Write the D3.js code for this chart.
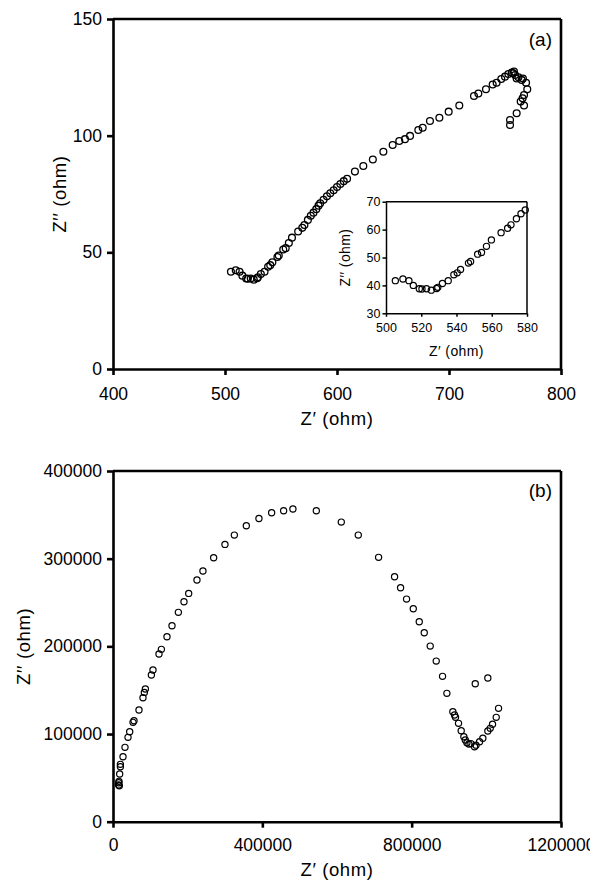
<!DOCTYPE html>
<html>
<head>
<meta charset="utf-8">
<script src="https://cdn.jsdelivr.net/npm/d3@7"></script>
<style>
  body { margin: 0; background: #fff; }
  svg { display: block; font-family: "Liberation Sans", Arial, sans-serif; }
</style>
</head>
<body>
<svg id="chart" width="600" height="893"></svg>
<script>
// ---- Panel (a): Nyquist plot, Z' vs Z'' (ohm) ----
const aZre = [505.3, 509.6, 513, 515.5, 518.9, 520.4, 523, 525.7, 528.7, 529.4, 532, 535.3, 538.5, 540.4, 542.3,
  546.8, 548, 552, 554.2, 557, 559.8, 565.3, 569, 570.9, 574, 576.6,
  579, 581.5, 583.5, 585, 588, 591, 594, 597, 600, 603, 606, 609, 616, 623.5, 632, 641.4, 649.7, 655.6, 660.7,
  665.2, 672.6, 676.5, 683, 691.4, 699.7, 709.2, 722.3, 726.2, 733, 739, 742.5, 746.7, 750, 753, 756, 757.4,
  758, 759, 760.4, 762, 764.9, 766, 768.8, 769.9, 767, 765.7, 764, 767, 760.4, 754.5, 754.5];
const aZim = [41.7, 42.3, 41.7, 40, 38.8, 38.7, 38.8, 38.3, 38.9, 39.3, 40.7, 41.7, 43.8, 44.5, 45.7,
  48, 48.6, 51.2, 51.8, 54, 56.3, 58.9, 60.5, 61.7, 63.9, 65.7,
  67, 68.5, 70, 71, 72.5, 74, 75.3, 76.6, 78, 79.3, 80.5, 81.5, 84.6, 87, 89.8, 93.1, 96, 97.7, 98.5,
  99.9, 102.4, 103.4, 106.3, 107.7, 110.3, 112.9, 117, 118.1, 119.9, 121.9, 122.7, 124.3, 125.3, 126.4, 127, 126.7,
  127.5, 126, 124.5, 125, 123.9, 124.5, 122.7, 119.9, 117.4, 116, 114.6, 112.9, 109.6, 106.7, 104.6];
const aXTicks = [400, 500, 600, 700, 800];
const aYTicks = [0, 50, 100, 150];

// ---- Inset of panel (a) ----
const insetXTicks = [500, 520, 540, 560, 580];
const insetYTicks = [30, 40, 50, 60, 70];

// ---- Panel (b) ----
const bZre = [15000, 15500, 16000, 17000, 17900, 19800, 19800, 26800, 32100, 40200, 44700, 53600, 56300, 69600,
  80300, 84000, 86700, 102800, 107100, 123200, 129600, 144600, 158000, 175100, 190100, 202700, 224900, 240900,
  269600, 299900, 325000, 357100, 390900, 424900, 457000, 481900, 544600, 611500, 657000, 711400, 754200,
  770300, 786300, 804300, 820300, 833700, 849700, 865800, 882700, 894300, 910300, 914800, 917500, 925500,
  932700, 939800, 943600, 948000, 953300, 958700, 968400, 972400, 981800, 990600, 1004000, 1010400, 1016600,
  1026500, 1032700, 970300, 1004000];
const bZim = [42000, 44500, 46000, 41000, 54400, 62700, 65400, 74100, 84800, 96200, 102600, 113300, 115200, 127400,
  141400, 147500, 151300, 167300, 173000, 191200, 196600, 211000, 223500, 238800, 250900, 260400, 275600, 285900,
  301000, 316300, 326900, 337500, 345900, 352300, 354600, 356600, 354600, 341700, 326900, 301500, 279400,
  266800, 253900, 242900, 228100, 215500, 200300, 183200, 165800, 146400, 125400, 121700, 119000, 112200,
  103800, 96900, 93200, 90100, 88600, 89100, 85500, 87300, 91200, 95100, 103400, 106500, 111100,
  119000, 129300, 157400, 163900];
const bXTicks = [0, 400000, 800000, 1200000];
const bYTicks = [0, 100000, 200000, 300000, 400000];

const svg = d3.select("#chart");

svg.append("defs").append("clipPath").attr("id", "pageclip")
  .append("rect").attr("x", 0).attr("y", 0).attr("width", 590).attr("height", 893);

function panel(opts) {
  const g = svg.append("g").attr("clip-path", opts.clip ? "url(#pageclip)" : null);
  const x = d3.scaleLinear().domain(opts.xDomain).range(opts.xRange);
  const y = d3.scaleLinear().domain(opts.yDomain).range(opts.yRange);
  const fs = opts.fontSize;

  // frame top & right
  g.append("line").attr("x1", opts.xRange[0]).attr("x2", opts.xRange[1])
    .attr("y1", opts.yRange[1]).attr("y2", opts.yRange[1])
    .attr("stroke", "#000").attr("stroke-width", opts.frameW);
  g.append("line").attr("x1", opts.xRange[1]).attr("x2", opts.xRange[1])
    .attr("y1", opts.yRange[0]).attr("y2", opts.yRange[1])
    .attr("stroke", "#000").attr("stroke-width", opts.frameW);

  const xa = g.append("g").attr("transform", `translate(0,${opts.yRange[0]})`)
    .call(d3.axisBottom(x).tickValues(opts.xTicks).tickFormat(d3.format("d"))
      .tickSize(opts.tick).tickSizeOuter(0).tickPadding(opts.xPad));
  const ya = g.append("g").attr("transform", `translate(${opts.xRange[0]},0)`)
    .call(d3.axisLeft(y).tickValues(opts.yTicks).tickFormat(d3.format("d"))
      .tickSize(opts.tick).tickSizeOuter(0).tickPadding(opts.yPad));
  [xa, ya].forEach(a => {
    a.select(".domain").attr("stroke-width", opts.axisW);
    a.selectAll(".tick line").attr("stroke-width", opts.axisW);
    a.selectAll("text").attr("font-size", fs).attr("fill", "#000")
      .attr("font-family", "Liberation Sans, Arial, sans-serif");
  });

  g.append("g").selectAll("circle").data(opts.xs.map((v, i) => [v, opts.ys[i]]))
    .join("circle")
    .attr("cx", d => x(d[0])).attr("cy", d => y(d[1])).attr("r", opts.r)
    .attr("fill", "none").attr("stroke", "#000").attr("stroke-width", opts.ptW);

  g.append("text").attr("x", (opts.xRange[0] + opts.xRange[1]) / 2).attr("y", opts.xTitleY)
    .attr("text-anchor", "middle").attr("font-size", opts.titleSize)
    .attr("letter-spacing", opts.ls).text("Z\u2032 (ohm)");
  const my = (opts.yRange[0] + opts.yRange[1]) / 2;
  g.append("text").attr("transform", `translate(${opts.yTitleX},${my}) rotate(-90)`)
    .attr("text-anchor", "middle").attr("font-size", opts.titleSize)
    .attr("letter-spacing", opts.ls).text("Z\u2032\u2032 (ohm)");
  if (opts.tag) {
    g.append("text").attr("x", opts.xRange[1] - 9).attr("y", opts.yRange[1] + opts.tagDy)
      .attr("text-anchor", "end").attr("font-size", 19).text(opts.tag);
  }
}

// panel (a) main
panel({
  xDomain: [400, 800], xRange: [113, 561], yDomain: [0, 150], yRange: [369, 19],
  xTicks: aXTicks, yTicks: aYTicks, xs: aZre, ys: aZim,
  fontSize: 17.5, titleSize: 18.5, ls: 0.6, tick: 6, xPad: 13, yPad: 5,
  axisW: 2.6, frameW: 2.6, r: 3.4, ptW: 1.3, xTitleY: 425, yTitleX: 66, tag: "(a)", tagDy: 27
});

// inset
const insetXs = aZre.filter(v => v <= 580);
const insetYs = aZim.filter((v, i) => aZre[i] <= 580);
panel({
  xDomain: [500, 580], xRange: [386, 527], yDomain: [30, 70], yRange: [313.3, 201.7],
  xTicks: insetXTicks, yTicks: insetYTicks, xs: insetXs, ys: insetYs,
  fontSize: 12.5, titleSize: 14, ls: 0.4, tick: 3.5, xPad: 6, yPad: 2,
  axisW: 1.5, frameW: 1.5, r: 3.1, ptW: 1.2, xTitleY: 355.5, yTitleX: 350
});

// panel (b)
panel({
  xDomain: [0, 1200000], xRange: [113, 561], yDomain: [0, 400000], yRange: [821.7, 471],
  xTicks: bXTicks, yTicks: bYTicks, xs: bZre, ys: bZim,
  fontSize: 17.5, titleSize: 18.5, ls: 0.6, tick: 6, xPad: 11, yPad: 5,
  axisW: 2.6, frameW: 2.6, r: 3.1, ptW: 1.2, xTitleY: 876, yTitleX: 30, tag: "(b)", tagDy: 25.5, clip: true
});
</script>
</body>
</html>
